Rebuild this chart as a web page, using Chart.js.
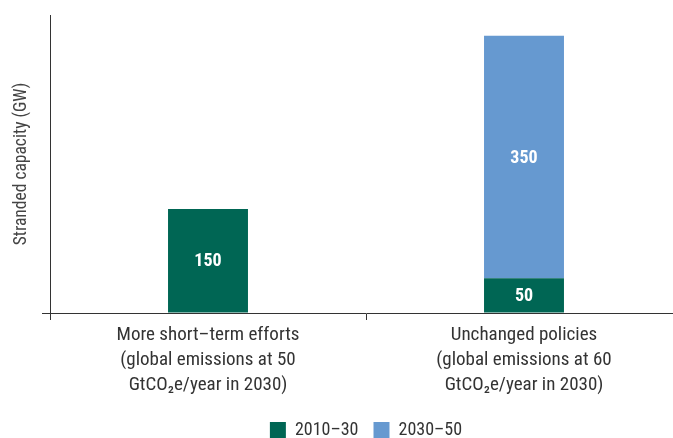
<!DOCTYPE html>
<html>
<head>
<meta charset="utf-8">
<script src="https://cdn.jsdelivr.net/npm/chart.js@4"></script>
<style>
  html, body { margin: 0; padding: 0; overflow: hidden; background: #fff; }
  #wrap { width: 673px; height: 438px; overflow: hidden; }
</style>
</head>
<body>
<div id="wrap"><canvas id="chart" width="732" height="449"></canvas></div>
<script>
  // scenario labels, one array of lines per bar
  const categories = [
    ['More short\u2013term efforts', '(global emissions at 50', 'GtCO\u2082e/year in 2030)'],
    ['Unchanged policies', '(global emissions at 60', 'GtCO\u2082e/year in 2030)']
  ];
  const seriesNames = ['2010\u201330', '2030\u201350'];
  const early = [150, 50];   // 2010-30
  const late = [0, 350];     // 2030-50
  const yMax = 430;

  const FONT = "'Roboto Condensed', 'Liberation Sans Narrow', 'Roboto', sans-serif";
  const INK = '#333333';

  // white value labels in the middle of each segment
  const valueLabels = {
    id: 'valueLabels',
    afterDatasetsDraw(chart) {
      const ctx = chart.ctx;
      ctx.save();
      ctx.fillStyle = '#ffffff';
      ctx.font = 'bold 18px ' + FONT;
      ctx.textAlign = 'center';
      ctx.textBaseline = 'middle';
      chart.data.datasets.forEach((ds, i) => {
        chart.getDatasetMeta(i).data.forEach((bar, j) => {
          const v = ds.data[j];
          if (!v) return;
          ctx.fillText(String(v), bar.x, (bar.y + bar.base) / 2 + 1);
        });
      });
      ctx.restore();
    }
  };

  new Chart(document.getElementById('chart'), {
    type: 'bar',
    data: {
      labels: categories,
      datasets: [
        { label: seriesNames[0], data: early, backgroundColor: '#006654' },
        { label: seriesNames[1], data: late, backgroundColor: '#6699d0' }
      ]
    },
    options: {
      responsive: false,
      animation: false,
      layout: { padding: { top: 15, right: 0, left: 0, bottom: 0 } },
      datasets: { bar: { categoryPercentage: 1, barPercentage: 0.253 } },
      scales: {
        x: {
          stacked: true,
          grid: { drawOnChartArea: false, drawTicks: true, tickLength: 7, color: INK, offset: true },
          border: { color: INK, width: 1 },
          ticks: { color: INK, padding: 3, font: { family: FONT, size: 19, lineHeight: '25px' }, maxRotation: 0 },
          afterFit: s => { s.height = 93; }
        },
        y: {
          stacked: true,
          min: 0,
          max: yMax,
          ticks: { display: false },
          grid: {
            drawOnChartArea: false, drawTicks: true, tickLength: 8,
            color: ctx => (ctx.tick && ctx.tick.value === 0 ? INK : 'rgba(0,0,0,0)')
          },
          border: { color: INK, width: 1 },
          title: {
            display: true,
            text: 'Stranded capacity (GW)',
            color: '#444444',
            font: { family: FONT, size: 17.5, lineHeight: '21px' },
            padding: { top: 11.5, bottom: 9.5 }
          }
        },
        // empty right-hand axis, only reserves room so the plot runs past the window edge
        spacer: {
          type: 'linear',
          position: 'right',
          ticks: { display: false },
          grid: { display: false },
          border: { display: false },
          afterFit: s => { s.width = 50; }
        }
      },
      plugins: {
        tooltip: { enabled: false },
        legend: {
          position: 'bottom',
          labels: {
            color: INK,
            font: { family: FONT, size: 18 },
            boxWidth: 16,
            boxHeight: 16,
            padding: 15
          }
        }
      }
    },
    plugins: [valueLabels]
  });
</script>
</body>
</html>
